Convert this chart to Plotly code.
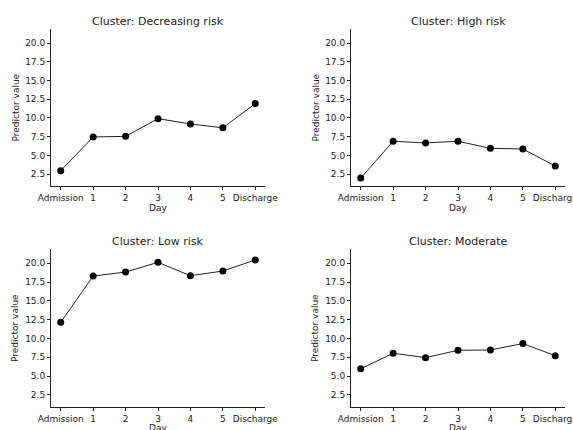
import plotly.graph_objects as go

days = ["Admission", "1", "2", "3", "4", "5", "Discharge"]
x_pos = [0, 1, 2, 3, 4, 5, 6]

decreasing_risk = [2.95, 7.46, 7.54, 9.91, 9.2, 8.68, 11.92]
high_risk = [1.96, 6.88, 6.66, 6.88, 5.94, 5.85, 3.57]
low_risk = [12.15, 18.3, 18.84, 20.13, 18.35, 18.97, 20.45]
moderate = [5.98, 8.04, 7.46, 8.44, 8.48, 9.33, 7.72]

panels = [
    ("Cluster: Decreasing risk", decreasing_risk),
    ("Cluster: High risk", high_risk),
    ("Cluster: Low risk", low_risk),
    ("Cluster: Moderate", moderate),
]
y_ticks = [2.5, 5.0, 7.5, 10.0, 12.5, 15.0, 17.5, 20.0]

W, H = 573, 430
x_px = [(51, 265), (351, 565)]
y_px = [(29, 186), (249, 407)]
title_y_px = [21, 241]
day_y_px = [208, 428]
ylab_x_px = [15, 315]

font = "DejaVu Sans, Liberation Sans, sans-serif"
fig = go.Figure()
layout = dict(
    width=W, height=H,
    margin=dict(l=0, r=0, t=0, b=0, autoexpand=False),
    paper_bgcolor="white", plot_bgcolor="white",
    showlegend=False,
    font=dict(family=font, size=9, color="#222"),
    annotations=[],
)

for i, (title, vals) in enumerate(panels):
    row, col = divmod(i, 2)
    n = i + 1
    xa = "x" if n == 1 else f"x{n}"
    ya = "y" if n == 1 else f"y{n}"
    fig.add_trace(go.Scatter(
        x=x_pos, y=vals, mode="lines+markers",
        line=dict(color="#222", width=1),
        marker=dict(color="black", size=7),
        xaxis=xa, yaxis=ya, cliponaxis=False,
    ))
    axkey_x = "xaxis" if n == 1 else f"xaxis{n}"
    axkey_y = "yaxis" if n == 1 else f"yaxis{n}"
    xd = [x_px[col][0] / W, x_px[col][1] / W]
    yd = [1 - y_px[row][1] / H, 1 - y_px[row][0] / H]
    layout[axkey_x] = dict(
        domain=xd, anchor=ya, range=[-0.3, 6.3], automargin=False,
        tickmode="array", tickvals=x_pos, ticktext=days,
        ticklabeloverflow="allow",
        showline=True, linecolor="#222", linewidth=1,
        ticks="outside", ticklen=3, tickcolor="#222",
        showgrid=False, zeroline=False,
        tickfont=dict(size=9),
    )
    layout[axkey_y] = dict(
        domain=yd, anchor=xa, range=[0.9, 21.9], automargin=False,
        tickmode="array", tickvals=y_ticks,
        ticktext=[f"{v:.1f}" for v in y_ticks],
        showline=True, linecolor="#222", linewidth=1,
        ticks="outside", ticklen=3, tickcolor="#222",
        showgrid=False, zeroline=False,
        tickfont=dict(size=9),
    )
    layout["annotations"].append(dict(
        text=title, xref="paper", yref="paper",
        x=sum(xd) / 2, y=1 - title_y_px[row] / H,
        xanchor="center", yanchor="middle", showarrow=False,
        font=dict(size=11, color="#222"),
    ))
    layout["annotations"].append(dict(
        text="Day", xref="paper", yref="paper",
        x=sum(xd) / 2, y=1 - day_y_px[row] / H,
        xanchor="center", yanchor="middle", showarrow=False,
        font=dict(size=9, color="#222"),
    ))
    layout["annotations"].append(dict(
        text="Predictor value", xref="paper", yref="paper",
        x=ylab_x_px[col] / W, y=sum(yd) / 2, textangle=-90,
        xanchor="center", yanchor="middle", showarrow=False,
        font=dict(size=9, color="#222"),
    ))

fig.update_layout(**layout)
fig.write_html(
    "out.html",
    config={"displayModeBar": False},
    post_script="document.body.style.margin='0';document.body.style.overflow='hidden';",
)
